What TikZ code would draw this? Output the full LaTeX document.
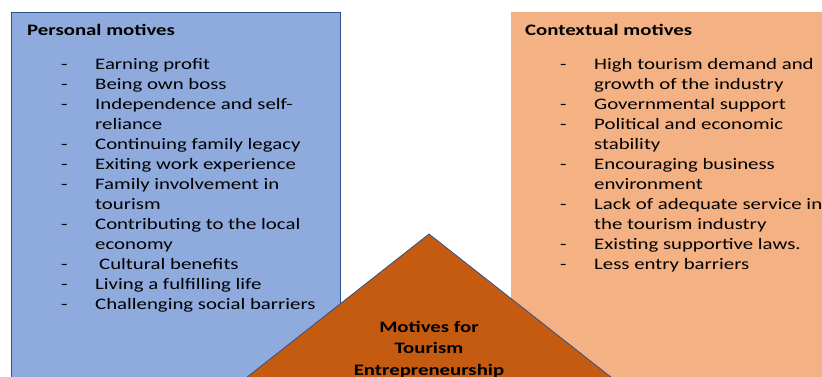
\documentclass[tikz,border=0pt]{standalone}
\usepackage{fontspec}
\setmainfont{Carlito}[FakeStretch=1.3]
\usetikzlibrary{positioning}
\definecolor{personalblue}{HTML}{8FAADC}
\definecolor{edgeblue}{HTML}{2F528F}
\definecolor{contextorange}{HTML}{F4B183}
\definecolor{motivebrown}{HTML}{C55A11}

\begin{document}
\begin{tikzpicture}[x=1pt, y=-1pt,
  motivebox/.style={anchor=north west, inner sep=0pt, minimum width=#1, minimum height=420pt},
  heading/.style={font=\fontsize{16}{20}\selectfont\bfseries, inner sep=0pt, text height=14pt, text depth=6pt},
  itemlist/.style={font=\fontsize{16}{20}\selectfont, inner sep=0pt},
  centre/.style={font=\fontsize{16}{21.5}\selectfont\bfseries, inner sep=0pt}]
\clip (0,0) rectangle (822,376);
% draw boxes
\coordinate (P) at (11,12);
\coordinate (C) at (511,12);
\node[motivebox=329pt, fill=personalblue, draw=edgeblue, line width=1.2pt] (personal) at (P) {};
\node[motivebox=340pt, fill=contextorange] (contextual) at (C) {};

% personal motives
\node[heading, below right=9pt and 16pt of personal.north west] (personalhead) {Personal motives};
\node[itemlist, below right=14pt and 34pt of personalhead.south west] (personallist) {%
\begin{tabular}{@{}p{34pt}@{}l@{}}
- & Earning profit\\
- & Being own boss\\
- & Independence and self-\\
  & reliance\\
- & Continuing family legacy\\
- & Exiting work experience\\
- & Family involvement in\\
  & tourism\\
- & Contributing to the local\\
  & economy\\
- & \hspace{4pt}Cultural benefits\\
- & Living a fulfilling life\\
- & Challenging social barriers
\end{tabular}};

% contextual motives
\node[heading, below right=9pt and 14pt of contextual.north west] (contexthead) {Contextual motives};
\node[itemlist, below right=14pt and 35pt of contexthead.south west] (contextlist) {%
\begin{tabular}{@{}p{34pt}@{}l@{}}
- & High tourism demand and\\
  & growth of the industry\\
- & Governmental support\\
- & Political and economic\\
  & stability\\
- & Encouraging business\\
  & environment\\
- & Lack of adequate service in\\
  & the tourism industry\\
- & Existing supportive laws.\\
- & Less entry barriers
\end{tabular}};

% triangle
\coordinate (apex) at (429,234);
\coordinate[below left=166pt and 211pt of apex] (baseL);
\coordinate[below right=166pt and 211pt of apex] (baseR);
\filldraw[fill=motivebrown, draw=edgeblue, line width=0.8pt] (apex) -- (baseL) -- (baseR) -- cycle;
\node[centre, below=83pt of apex] (motives) {%
\begin{tabular}{@{}c@{}}
Motives for\\
Tourism\\
Entrepreneurship
\end{tabular}};

\end{tikzpicture}
\end{document}
